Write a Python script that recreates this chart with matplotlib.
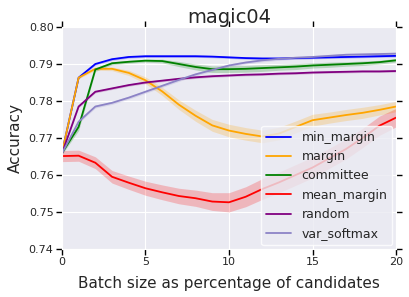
import numpy as np
import matplotlib
matplotlib.use("Agg")
import matplotlib.pyplot as plt
import seaborn as sns

sns.set_style("darkgrid")

# batch size (% of candidates)
x = np.arange(0, 21)

min_margin = [0.7659, 0.7863, 0.7900, 0.7913, 0.7919, 0.7921, 0.7921, 0.7921, 0.7921, 0.7920, 0.7918,
              0.7916, 0.7915, 0.7915, 0.7916, 0.7917, 0.7918, 0.7919, 0.7920, 0.7921, 0.7922]
margin = [0.7659, 0.7863, 0.7887, 0.7887, 0.7876, 0.7856, 0.7826, 0.7790, 0.7760, 0.7734, 0.7720,
          0.7711, 0.7704, 0.7712, 0.7730, 0.7748, 0.7755, 0.7762, 0.7768, 0.7776, 0.7785]
committee = [0.7659, 0.7730, 0.7885, 0.7902, 0.7906, 0.7909, 0.7908, 0.7900, 0.7892, 0.7886, 0.7886,
             0.7887, 0.7889, 0.7891, 0.7893, 0.7896, 0.7898, 0.7900, 0.7902, 0.7905, 0.7910]
mean_margin = [0.7651, 0.7652, 0.7633, 0.7595, 0.7579, 0.7564, 0.7553, 0.7543, 0.7537, 0.7528, 0.7526,
               0.7541, 0.7562, 0.7580, 0.7600, 0.7620, 0.7645, 0.7670, 0.7700, 0.7733, 0.7755]
random_ = [0.7658, 0.7785, 0.7825, 0.7834, 0.7843, 0.7850, 0.7855, 0.7860, 0.7864, 0.7867, 0.7869,
           0.7871, 0.7872, 0.7874, 0.7875, 0.7877, 0.7878, 0.7879, 0.7880, 0.7880, 0.7881]
var_softmax = [0.7658, 0.7744, 0.7785, 0.7795, 0.7809, 0.7825, 0.7841, 0.7857, 0.7872, 0.7884, 0.7896,
               0.7904, 0.7910, 0.7914, 0.7917, 0.7919, 0.7922, 0.7925, 0.7926, 0.7927, 0.7928]

# half widths of the shaded bands
min_margin_sd = [0.0003] * 21
margin_sd = [0.0003, 0.0003, 0.0004, 0.0005, 0.0007, 0.0009, 0.0011, 0.0013, 0.0015, 0.0016, 0.0017,
             0.0017, 0.0017, 0.0017, 0.0016, 0.0016, 0.0015, 0.0015, 0.0015, 0.0014, 0.0014]
committee_sd = [0.0004, 0.0010, 0.0005, 0.0004, 0.0004, 0.0004, 0.0005, 0.0007, 0.0008, 0.0009, 0.0009,
                0.0009, 0.0009, 0.0008, 0.0008, 0.0007, 0.0007, 0.0006, 0.0006, 0.0005, 0.0005]
mean_margin_sd = [0.0015, 0.0015, 0.0016, 0.0017, 0.0018, 0.0019, 0.0020, 0.0021, 0.0022, 0.0024, 0.0026,
                  0.0027, 0.0028, 0.0028, 0.0028, 0.0028, 0.0027, 0.0027, 0.0026, 0.0026, 0.0025]
random_sd = [0.0003] * 21
var_softmax_sd = [0.0004] * 21

names = ["min_margin", "margin", "committee", "mean_margin", "random", "var_softmax"]
colors = ["blue", "orange", "green", "red", "purple", "#8c83c6"]
series = [min_margin, margin, committee, mean_margin, random_, var_softmax]
sds = [min_margin_sd, margin_sd, committee_sd, mean_margin_sd, random_sd, var_softmax_sd]

fig = plt.figure(figsize=(4.1, 2.97), dpi=100)
ax = fig.add_axes([0.151, 0.162, 0.815, 0.747])

for name, c, y, sd in zip(names, colors, series, sds):
    y = np.array(y)
    sd = np.array(sd)
    ax.fill_between(x, y - sd, y + sd, color=c, alpha=0.22, lw=0)
    ax.plot(x, y, color=c, lw=1.3, label=name)

ax.set_xlim(0, 20)
ax.set_ylim(0.74, 0.80)
ax.set_xticks([0, 5, 10, 15, 20])
ax.set_yticks([0.74, 0.75, 0.76, 0.77, 0.78, 0.79, 0.80])
ax.set_yticklabels(["0.74", "0.75", "0.76", "0.77", "0.78", "0.79", "0.80"])
ax.tick_params(direction="out", length=4, width=1, color="black", labelsize=8,
               left=True, bottom=True, right=True, top=True, pad=2)
ax.set_title("magic04", fontsize=14, pad=3)
ax.set_xlabel("Batch size as percentage of candidates", fontsize=11, labelpad=6)
ax.set_ylabel("Accuracy", fontsize=11, labelpad=4)

leg = ax.legend(loc="lower right", fontsize=9, frameon=True, borderaxespad=0.3)
leg.get_frame().set_edgecolor("white")
leg.get_frame().set_facecolor("#EAEAF2")

fig.savefig("out.png", dpi=100)
